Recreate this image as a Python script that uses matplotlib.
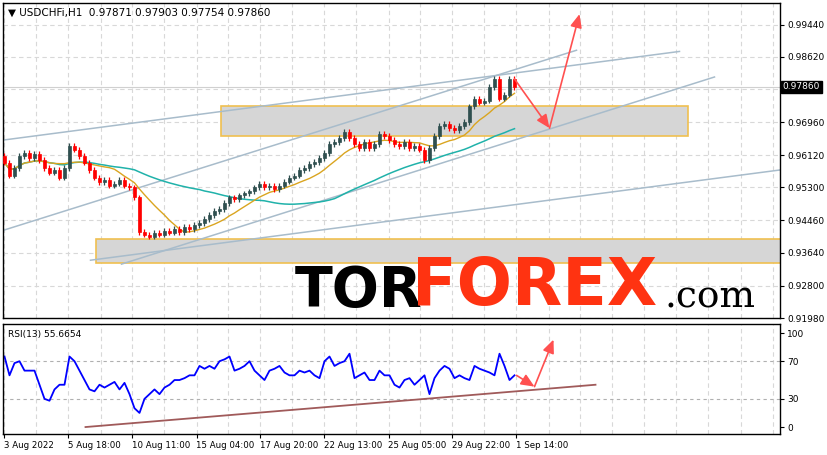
import numpy as np
import pandas as pd
import matplotlib
matplotlib.use("Agg")
import matplotlib.pyplot as plt
from matplotlib.patches import Rectangle

closes = [0.9593,0.9560,0.9580,0.9610,0.9618,0.9605,0.9615,0.9600,0.9580,0.9568,
          0.9575,0.9555,0.9580,0.9636,0.9626,0.9610,0.9593,0.9575,0.9555,0.9543,
          0.9550,0.9535,0.9540,0.9550,0.9535,0.9530,0.9505,0.9417,0.9410,0.9405,
          0.9415,0.9410,0.9420,0.9415,0.9425,0.9417,0.9430,0.9425,0.9435,0.9440,
          0.9450,0.9460,0.9470,0.9475,0.9490,0.9505,0.9500,0.9510,0.9515,0.9520,
          0.9530,0.9540,0.9530,0.9535,0.9525,0.9535,0.9545,0.9555,0.9560,0.9575,
          0.9580,0.9590,0.9595,0.9605,0.9618,0.9641,0.9646,0.9656,0.9671,0.9656,
          0.9641,0.9631,0.9646,0.9631,0.9641,0.9666,0.9661,0.9651,0.9641,0.9636,
          0.9646,0.9631,0.9636,0.9626,0.9600,0.9631,0.9661,0.9686,0.9691,0.9681,
          0.9676,0.9686,0.9696,0.9736,0.9756,0.9746,0.9751,0.9786,0.9806,0.9756,
          0.9766,0.9806,0.9786]
first_open = 0.9610
rsi = [75,55,68,70,60,60,60,45,30,28,40,45,45,75,70,60,50,40,38,45,42,45,48,40,47,
       35,20,15,30,35,40,35,42,45,50,50,52,55,55,65,62,65,62,70,72,75,60,62,65,70,
       60,55,50,60,62,65,58,55,55,60,58,60,55,52,70,75,65,68,70,78,52,55,58,50,50,
       60,55,55,45,42,50,52,45,50,55,35,52,60,65,62,52,55,52,50,65,62,60,58,55,78,
       65,50,55]
price_ticks = [0.99440,0.98620,0.97800,0.96960,0.96120,0.95300,0.94460,0.93640,0.92800,0.91980]
price_labels = ["0.99440","0.98620","","0.96960","0.96120","0.95300","0.94460","0.93640","0.92800","0.91980"]
date_labels = ["3 Aug 2022","5 Aug 18:00","10 Aug 11:00","15 Aug 04:00","17 Aug 20:00",
               "22 Aug 13:00","25 Aug 05:00","29 Aug 22:00","1 Sep 14:00"]
trend_lines = [((0,0.9651),(135,0.9876)), ((0,0.9422),(114.4,0.9879)),
               ((23.4,0.9335),(142,0.9811)), ((17.2,0.9345),(155.4,0.9575))]
boxes = [(43.4,136.8,0.9661,0.9736),(18.4,155.4,0.9337,0.9400)]
arrow_pts = [(102,0.9806),(109,0.9681),(115,0.9971)]
rsi_line = ((16.2,0.0),(118.2,45.0))
rsi_arrow = [(102.4,55),(106,43),(109.8,93)]

n = len(closes)
idx = np.arange(n)
opens = [first_open] + closes[:-1]
s = pd.Series(closes)
ma_fast = s.rolling(10, min_periods=1).mean()
ma_slow = s.rolling(40, min_periods=1).mean()

W, H = 828, 455
fig = plt.figure(figsize=(W/100, H/100), dpi=100)
XL = (-0.3, 155.1)
ax = fig.add_axes([3/W, (H-318)/H, 777/W, 315/H])
ax2 = fig.add_axes([3/W, (H-434)/H, 777/W, 110/H])
for a in (ax, ax2):
    a.set_xlim(*XL)
    for sp in a.spines.values():
        sp.set_color('black'); sp.set_linewidth(1)
    a.tick_params(axis='both', labelsize=6.5, length=3, color='black', pad=2)
    a.yaxis.tick_right()
ax.set_ylim(0.92092, 0.99992)
ax2.set_ylim(-7.4, 109.6)

for gx in np.arange(0, 156, 6.4):
    for a in (ax, ax2):
        a.axvline(gx, color='#d8d8d8', lw=0.8, ls=(0,(4,3)), zorder=0)
for t in price_ticks:
    ax.axhline(t, color='#d8d8d8', lw=0.8, ls=(0,(4,3)), zorder=0)
ax.axhline(closes[-1], color='#d0d0d0', lw=0.8, zorder=0)
for t in (30, 70):
    ax2.axhline(t, color='#b0b0b0', lw=0.8, ls=(0,(3,3)), zorder=0)

ax.set_yticks(price_ticks)
ax.set_yticklabels(price_labels)
ax.set_xticks([])
ax2.set_yticks([0,30,70,100])
ax2.set_yticklabels(["0","30","70","100"])
ax2.set_xticks(np.arange(len(date_labels))*12.8)
ax2.set_xticklabels(date_labels, ha='left', fontsize=6.2)

for x0, x1, p0, p1 in boxes:
    ax.add_patch(Rectangle((x0, p0), x1-x0, p1-p0, facecolor='#d6d6d6',
                           edgecolor='#f0c050', lw=1.2, zorder=1))
for (x0,y0),(x1,y1) in trend_lines:
    ax.plot([x0,x1],[y0,y1], color='#a8bccb', lw=1.1, zorder=2)

fig.text(295/W, (H-318)/H, "TOR", fontsize=40, fontweight='heavy', color='black',
         family='DejaVu Sans', va='bottom', ha='left', zorder=3)
fig.text(412/W, (H-319)/H, "FOREX", fontsize=47, fontweight='heavy', color='#ff3311',
         family='DejaVu Sans', va='bottom', ha='left', zorder=3)
fig.text(665/W, (H-316)/H, ".com", fontsize=27, color='black',
         family='DejaVu Serif', va='bottom', ha='left', zorder=3)

ax.plot(idx, ma_slow, color='#20b2aa', lw=1.1, zorder=4)
ax.plot(idx, ma_fast, color='#daa520', lw=1.0, zorder=4)

for i in range(n):
    o, c = opens[i], closes[i]
    col = '#2f4f4f' if c >= o else '#ff0000'
    ax.vlines(i, min(o,c)-0.0007, max(o,c)+0.0007, color=col, lw=0.9, zorder=5)
    ax.add_patch(Rectangle((i-0.35, min(o,c)), 0.7, max(abs(c-o), 0.00005),
                           facecolor=col, edgecolor=col, lw=0.5, zorder=5))

def arrow_path(a, pts):
    for k in range(len(pts)-1):
        a.annotate('', xy=pts[k+1], xytext=pts[k],
                   arrowprops=dict(arrowstyle='-|>,head_width=0.35,head_length=0.8',
                                   color='#ff5050', lw=1.2, shrinkA=0, shrinkB=0), zorder=6)
arrow_path(ax, arrow_pts)

ax.text(1.003, closes[-1], "0.97860", transform=ax.get_yaxis_transform(), fontsize=6.5,
        color='white', va='center', ha='left',
        bbox=dict(boxstyle='square,pad=0.2', fc='black', ec='black'))

ax.text(0.006, 0.985, "▼ USDCHFi,H1  0.97871 0.97903 0.97754 0.97860", transform=ax.transAxes,
        fontsize=7.5, va='top', ha='left')
ax2.text(0.006, 0.95, "RSI(13) 55.6654", transform=ax2.transAxes, fontsize=6.5, va='top', ha='left')

ax2.plot(np.linspace(0, n-1, len(rsi)), rsi, color='#0000ff', lw=1.3)
ax2.plot([rsi_line[0][0], rsi_line[1][0]], [rsi_line[0][1], rsi_line[1][1]], color='#a05a5a', lw=1.3)
arrow_path(ax2, rsi_arrow)

fig.savefig("out.png", dpi=100)
